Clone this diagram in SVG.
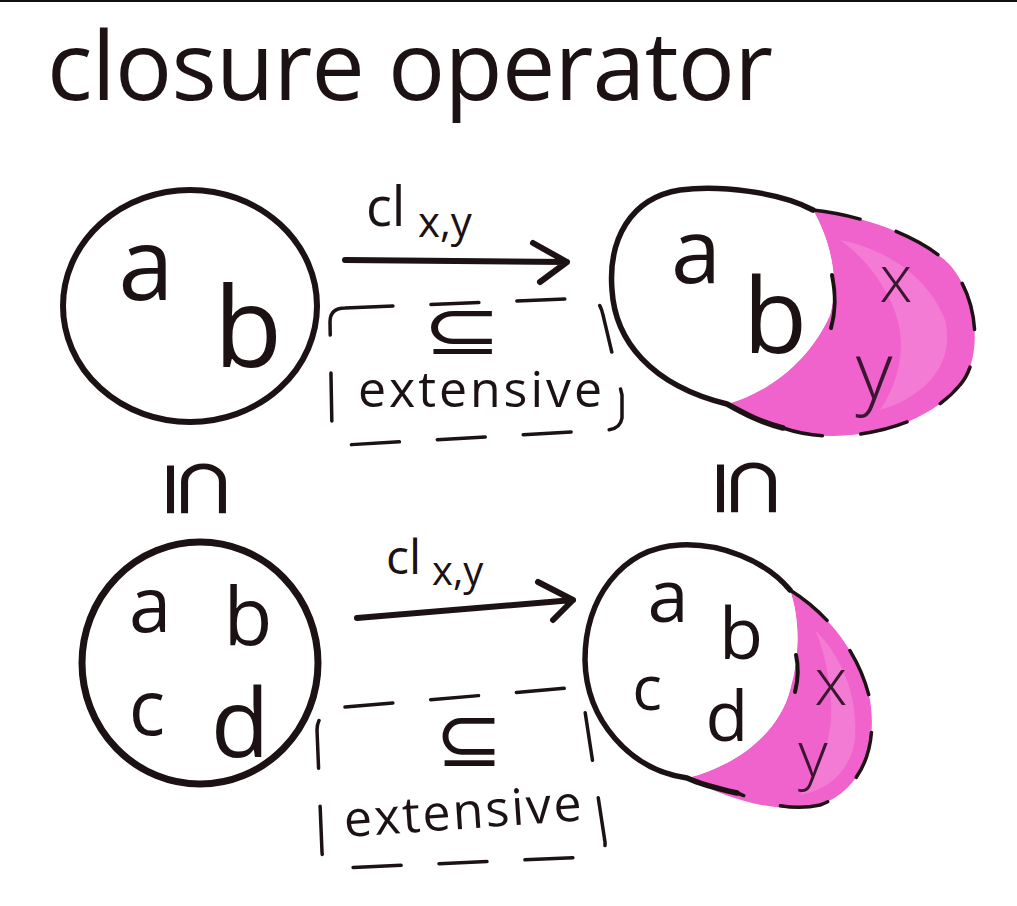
<svg xmlns="http://www.w3.org/2000/svg" width="1017" height="906" viewBox="0 0 1017 906">
<style>
.t{font-family:"Open Sans","Liberation Sans",sans-serif;font-weight:400;fill:#1c1214}
.m{text-anchor:middle}
.ln{fill:none;stroke:#1c1214;stroke-linecap:round;stroke-linejoin:round}
.dash{fill:none;stroke:#1c1214;stroke-width:3.5;stroke-linecap:round;stroke-dasharray:48 38}
.pink{fill:#f062cc}
.pinkl{fill:#f7a3e2;opacity:0.4}
.xy{font-family:"Open Sans","Liberation Sans",sans-serif;font-weight:300;fill:#3a1630}
.sym{font-family:"DejaVu Sans",sans-serif;font-weight:400;fill:#1c1214}
</style>
<rect x="0" y="0" width="1017" height="906" fill="#ffffff"/>
<line x1="0" y1="1" x2="1017" y2="1" stroke="#111" stroke-width="2"/>
<g id="title">
<text class="t" x="47" y="100" font-size="95" textLength="726" lengthAdjust="spacing">closure operator</text>
</g>
<g id="node-top-left">
<ellipse class="ln" cx="190" cy="306" rx="127" ry="116" stroke-width="6"/>
<text class="t m" x="146" y="300" font-size="100">a</text>
<text class="t m" x="248" y="367" font-size="112">b</text>
</g>
<g id="node-top-right">
<path class="pink" d="M813,210 C860,215 920,235 950,265 C980,300 982,360 960,385 C935,415 890,435 833,436 C790,436 750,420 727,404 C770,392 810,360 830,315 C840,280 830,240 813,210 Z"/>
<path class="pinkl" d="M840,240 C890,250 930,280 945,320 C955,360 930,395 880,410 C900,380 910,340 890,300 C875,270 860,255 840,240 Z"/>
<path d="M813,210 C780,192 720,185 680,190 C630,198 608,240 612,290 C615,340 650,385 727,404 C770,392 810,360 830,315 C840,280 830,240 813,210 Z" fill="#fff"/>
<path class="ln" stroke-width="5.5" d="M783,428 C760,422 745,414 727,404 C650,385 615,340 612,290 C608,240 630,198 680,190 C720,185 780,192 813,210"/>
<path class="ln" stroke-width="4" d="M832,275 C836,295 836,310 831,328"/>
<path class="dash" d="M813,210 C860,215 920,235 950,265 C980,300 982,360 960,385 C935,415 890,435 833,436 C810,436 795,432 783,428"/>
<text class="t m" x="696" y="283" font-size="90">a</text>
<text class="t m" x="775" y="353" font-size="105">b</text>
<text class="xy m" x="896" y="302" font-size="66">x</text>
<text class="xy m" x="874" y="399" font-size="80">y</text>
</g>
<g id="node-bottom-left">
<ellipse class="ln" cx="200" cy="663" rx="118" ry="121" stroke-width="7"/>
<text class="t m" x="150" y="632" font-size="76">a</text>
<text class="t m" x="248" y="645" font-size="80">b</text>
<text class="t m" x="147" y="735" font-size="76">c</text>
<text class="t m" x="240" y="757" font-size="96">d</text>
</g>
<g id="node-bottom-right">
<path class="pink" d="M790,590 C830,615 860,655 870,700 C878,750 860,790 820,805 C780,815 730,800 687,778 C740,765 780,730 790,690 C800,655 800,620 790,590 Z"/>
<path class="pinkl" d="M815,630 C845,660 858,700 855,740 C850,770 830,790 800,795 C825,765 835,730 830,690 C827,665 822,645 815,630 Z"/>
<path d="M790,590 C765,560 720,543 680,545 C620,548 585,600 585,660 C586,720 630,770 687,778 C740,765 780,730 790,690 C800,655 800,620 790,590 Z" fill="#fff"/>
<path class="ln" stroke-width="5.5" d="M737,793 C715,788 700,784 687,778 C630,770 586,720 585,660 C585,600 620,548 680,545 C720,543 765,560 790,590"/>
<path class="ln" stroke-width="4" d="M796,655 C799,668 798,680 795,692"/>
<path class="dash" d="M790,590 C830,615 860,655 870,700 C878,750 860,790 820,805 C790,812 760,802 737,793"/>
<text class="t m" x="668" y="622" font-size="74">a</text>
<text class="t m" x="741" y="659" font-size="72">b</text>
<text class="t m" x="647" y="710" font-size="62">c</text>
<text class="t m" x="727" y="741" font-size="70">d</text>
<text class="xy m" x="831" y="705" font-size="66">x</text>
<text class="xy m" x="813" y="777" font-size="64">y</text>
</g>
<g id="subset-left">
<text class="sym m" x="0" y="0" font-size="60" dominant-baseline="central" transform="translate(200,489) rotate(90) scale(1.3,1.6)">⊆</text>
</g>
<g id="subset-right">
<text class="sym m" x="0" y="0" font-size="60" dominant-baseline="central" transform="translate(750,488) rotate(90) scale(1.3,1.6)">⊆</text>
</g>
<g id="box-top">
<path class="dash" d="M345,308 L590,298 Q600,300 603,315 L622,395 L622,418 Q620,430 605,430 L345,445 Q332,445 332,430 L330,322 Q330,308 345,308 Z"/>
<text class="sym m" x="0" y="0" font-size="56" transform="translate(462,354) scale(1.7,1.25)">⊆</text>
<text class="t" x="358" y="407" font-size="50" textLength="244" lengthAdjust="spacing">extensive</text>
</g>
<g id="box-bottom">
<path class="dash" d="M345,707 L568,688 Q583,688 584,705 L605,842 Q606,856 590,857 L340,868 Q323,868 322,852 L317,730 Q317,710 345,707 Z"/>
<text class="sym m" x="0" y="0" font-size="56" transform="translate(469,766) scale(1.45,1.4)">⊆</text>
<text class="t" x="345" y="837" font-size="50" textLength="238" lengthAdjust="spacing" transform="rotate(-4 345 837)">extensive</text>
</g>
<g id="connectors">
<g id="edge-top">
<path class="ln" stroke-width="6" d="M345,260 L567,262 M533,243 L567,262 L540,282"/>
<text class="t" x="366" y="226" font-size="54">cl</text>
<text class="t" x="418" y="237" font-size="42">x,y</text>
</g>
<g id="edge-bottom">
<path class="ln" stroke-width="6" d="M357,618 L573,600 M538,582 L573,600 L553,620"/>
<text class="t" x="386" y="574" font-size="48">cl</text>
<text class="t" x="432" y="585" font-size="40">x,y</text>
</g>
</g>
</svg>
